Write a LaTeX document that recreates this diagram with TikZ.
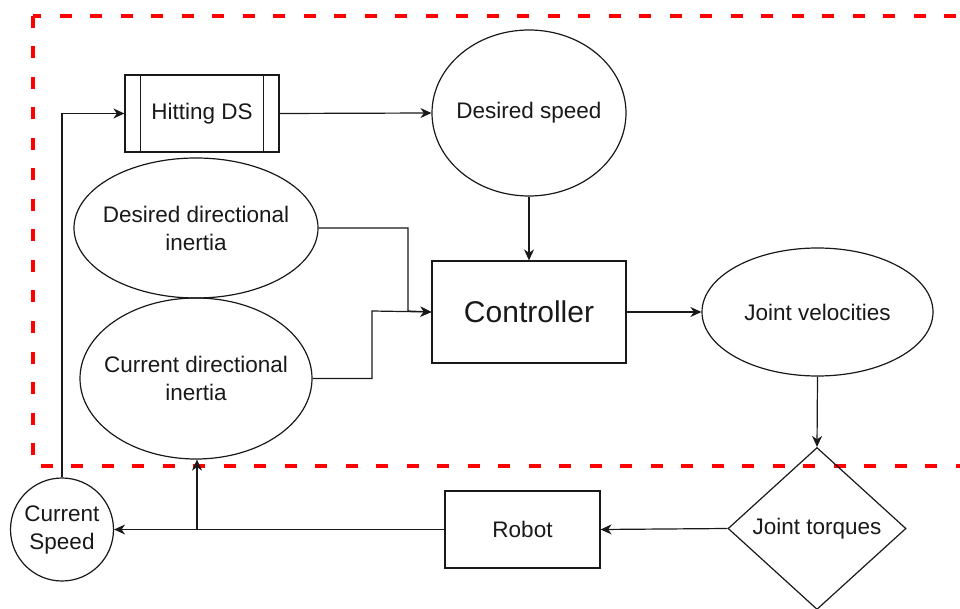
\documentclass[tikz,border=0pt]{standalone}
\usepackage{fontspec}
\setmainfont{Liberation Sans}
\usetikzlibrary{shapes.geometric,arrows.meta}
\begin{document}
\begin{tikzpicture}[x=1pt,y=-1pt,
  every node/.style={font=\fontsize{22.5}{28}\selectfont, align=center, text=black!90},
  ln/.style={draw=black!90, line width=1.2pt},
  arr/.style={ln, -{Stealth[length=11pt,width=10pt,inset=3.5pt]}},
  ell/.style={ellipse, ln, inner sep=0pt},
  box/.style={rectangle, ln, inner sep=0pt},
  zone/.style={draw=red, line width=4.5pt, dash pattern=on 12pt off 18.5pt}
]
\useasboundingbox (0,0) rectangle (960,609);
\fill[white] (0,0) rectangle (960,609);
\begin{scope}
\clip (0,0) rectangle (960,609);
\draw[zone] (33,16) rectangle (990,466);
\end{scope}

\node[box, minimum width=154pt, minimum height=77pt] (hds) at (202,113.5) {Hitting DS};
\draw[ln] ([xshift=16pt]hds.north west) -- ([xshift=16pt]hds.south west);
\draw[ln] ([xshift=-16pt]hds.north east) -- ([xshift=-16pt]hds.south east);

\node[ell, minimum width=194pt, minimum height=166pt, label={center:Desired speed}] (ds) at (529,113) {};
\node[ell, minimum width=244pt, minimum height=140pt, label={center:Desired directional\\inertia}] (ddi) at (196,228) {};
\node[ell, minimum width=232pt, minimum height=161pt, label={center:Current directional\\inertia}] (cdi) at (196,378.5) {};
\node[box, minimum width=194pt, minimum height=102pt, font=\fontsize{30}{36}\selectfont] (ctl) at (529,312) {Controller};
\node[ell, minimum width=231pt, minimum height=128pt, label={center:Joint velocities}] (jv) at (817.5,312) {};
\node[diamond, ln, inner sep=0pt, minimum width=178pt, minimum height=162pt] (jt) at (817,528.5) {Joint torques};
\node[box, minimum width=155pt, minimum height=77pt] (rb) at (522.5,529.5) {Robot};
\node[circle, ln, inner sep=0pt, minimum size=103pt] (cs) at (62,529.5) {Current\\Speed};

\coordinate (j1) at (408,311);
\coordinate (j2) at (372,311);
\coordinate (j3) at (197,529.5);

\draw[arr] (cs.north) |- (hds.west);
\draw[arr] (hds.east) -- (ds.west);
\draw[arr] (ds.south) -- (ctl.north);
\draw[arr] (ddi.east) -| (j1) -- (ctl.west);
\draw[arr] (cdi.east) -| (j2) -- (ctl.west);
\draw[arr] (ctl.east) -- (jv.west);
\draw[arr] (jv.south) -- (jt.north);
\draw[arr] (jt.west) -- (rb.east);
\draw[arr] (rb.west) -- (cs.east);
\draw[arr] (j3) -- (j3 |- cdi.south);
\end{tikzpicture}
\end{document}
